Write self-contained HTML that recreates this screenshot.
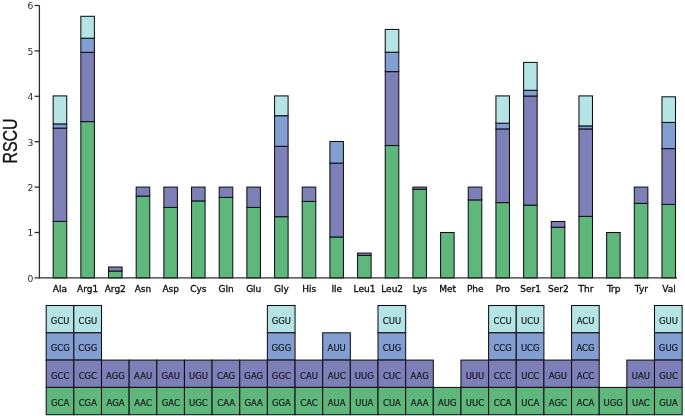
<!DOCTYPE html>
<html><head><meta charset="utf-8"><title>RSCU</title>
<style>html,body{margin:0;padding:0;background:#fff}svg{display:block}</style></head>
<body>
<svg width="685" height="416" viewBox="0 0 685 416">
<defs><filter id="soft" x="0" y="0" width="100%" height="100%" filterUnits="userSpaceOnUse"><feGaussianBlur stdDeviation="0.4"/></filter></defs>
<rect width="685" height="416" fill="#fff"/>
<g filter="url(#soft)">
<rect width="685" height="416" fill="#fff"/>
<g stroke="#101018" stroke-width="1.05">
<rect x="53.18" y="221.40" width="13.55" height="56.50" fill="#60b77b"/>
<rect x="53.18" y="128.10" width="13.55" height="93.30" fill="#7d7fb7"/>
<rect x="53.18" y="123.90" width="13.55" height="4.20" fill="#839ed1"/>
<rect x="53.18" y="95.90" width="13.55" height="28.00" fill="#b5e4e5"/>
<rect x="80.85" y="121.60" width="13.55" height="156.30" fill="#60b77b"/>
<rect x="80.85" y="52.30" width="13.55" height="69.30" fill="#7d7fb7"/>
<rect x="80.85" y="38.20" width="13.55" height="14.10" fill="#839ed1"/>
<rect x="80.85" y="16.30" width="13.55" height="21.90" fill="#b5e4e5"/>
<rect x="108.52" y="271.00" width="13.55" height="6.90" fill="#60b77b"/>
<rect x="108.52" y="267.00" width="13.55" height="4.00" fill="#7d7fb7"/>
<rect x="136.19" y="196.10" width="13.55" height="81.80" fill="#60b77b"/>
<rect x="136.19" y="187.10" width="13.55" height="9.00" fill="#7d7fb7"/>
<rect x="163.86" y="207.40" width="13.55" height="70.50" fill="#60b77b"/>
<rect x="163.86" y="187.10" width="13.55" height="20.30" fill="#7d7fb7"/>
<rect x="191.53" y="200.90" width="13.55" height="77.00" fill="#60b77b"/>
<rect x="191.53" y="187.10" width="13.55" height="13.80" fill="#7d7fb7"/>
<rect x="219.21" y="197.40" width="13.55" height="80.50" fill="#60b77b"/>
<rect x="219.21" y="187.10" width="13.55" height="10.30" fill="#7d7fb7"/>
<rect x="246.88" y="207.40" width="13.55" height="70.50" fill="#60b77b"/>
<rect x="246.88" y="187.10" width="13.55" height="20.30" fill="#7d7fb7"/>
<rect x="274.55" y="216.70" width="13.55" height="61.20" fill="#60b77b"/>
<rect x="274.55" y="146.30" width="13.55" height="70.40" fill="#7d7fb7"/>
<rect x="274.55" y="115.70" width="13.55" height="30.60" fill="#839ed1"/>
<rect x="274.55" y="95.90" width="13.55" height="19.80" fill="#b5e4e5"/>
<rect x="302.22" y="201.40" width="13.55" height="76.50" fill="#60b77b"/>
<rect x="302.22" y="187.10" width="13.55" height="14.30" fill="#7d7fb7"/>
<rect x="329.90" y="237.00" width="13.55" height="40.90" fill="#60b77b"/>
<rect x="329.90" y="163.10" width="13.55" height="73.90" fill="#7d7fb7"/>
<rect x="329.90" y="141.50" width="13.55" height="21.60" fill="#839ed1"/>
<rect x="357.57" y="255.40" width="13.55" height="22.50" fill="#60b77b"/>
<rect x="357.57" y="253.10" width="13.55" height="2.30" fill="#7d7fb7"/>
<rect x="385.24" y="145.50" width="13.55" height="132.40" fill="#60b77b"/>
<rect x="385.24" y="71.60" width="13.55" height="73.90" fill="#7d7fb7"/>
<rect x="385.24" y="52.20" width="13.55" height="19.40" fill="#839ed1"/>
<rect x="385.24" y="29.40" width="13.55" height="22.80" fill="#b5e4e5"/>
<rect x="412.91" y="189.30" width="13.55" height="88.60" fill="#60b77b"/>
<rect x="412.91" y="187.10" width="13.55" height="2.20" fill="#7d7fb7"/>
<rect x="440.58" y="232.50" width="13.55" height="45.40" fill="#60b77b"/>
<rect x="468.25" y="199.90" width="13.55" height="78.00" fill="#60b77b"/>
<rect x="468.25" y="187.10" width="13.55" height="12.80" fill="#7d7fb7"/>
<rect x="495.93" y="202.60" width="13.55" height="75.30" fill="#60b77b"/>
<rect x="495.93" y="128.90" width="13.55" height="73.70" fill="#7d7fb7"/>
<rect x="495.93" y="123.20" width="13.55" height="5.70" fill="#839ed1"/>
<rect x="495.93" y="95.90" width="13.55" height="27.30" fill="#b5e4e5"/>
<rect x="523.60" y="205.10" width="13.55" height="72.80" fill="#60b77b"/>
<rect x="523.60" y="96.00" width="13.55" height="109.10" fill="#7d7fb7"/>
<rect x="523.60" y="90.30" width="13.55" height="5.70" fill="#839ed1"/>
<rect x="523.60" y="62.40" width="13.55" height="27.90" fill="#b5e4e5"/>
<rect x="551.27" y="227.20" width="13.55" height="50.70" fill="#60b77b"/>
<rect x="551.27" y="221.50" width="13.55" height="5.70" fill="#7d7fb7"/>
<rect x="578.94" y="216.40" width="13.55" height="61.50" fill="#60b77b"/>
<rect x="578.94" y="128.90" width="13.55" height="87.50" fill="#7d7fb7"/>
<rect x="578.94" y="125.90" width="13.55" height="3.00" fill="#839ed1"/>
<rect x="578.94" y="95.90" width="13.55" height="30.00" fill="#b5e4e5"/>
<rect x="606.62" y="232.50" width="13.55" height="45.40" fill="#60b77b"/>
<rect x="634.29" y="203.40" width="13.55" height="74.50" fill="#60b77b"/>
<rect x="634.29" y="187.10" width="13.55" height="16.30" fill="#7d7fb7"/>
<rect x="661.96" y="204.40" width="13.55" height="73.50" fill="#60b77b"/>
<rect x="661.96" y="148.60" width="13.55" height="55.80" fill="#7d7fb7"/>
<rect x="661.96" y="122.40" width="13.55" height="26.20" fill="#839ed1"/>
<rect x="661.96" y="96.80" width="13.55" height="25.60" fill="#b5e4e5"/>
</g>
<g stroke="#2e2e2e" stroke-width="1.3" fill="none">
<path d="M39.4 5.50V278.30"/>
<path d="M34.6 277.90H677"/>
<path d="M34.6 232.50H39.4"/>
<path d="M34.6 187.10H39.4"/>
<path d="M34.6 141.70H39.4"/>
<path d="M34.6 96.30H39.4"/>
<path d="M34.6 50.90H39.4"/>
<path d="M34.6 5.50H39.4"/>
</g>
<g font-family="'DejaVu Sans','Liberation Sans',sans-serif" font-size="9.2" fill="#2a2a2a" text-anchor="end">
<text x="33.4" y="281.80">0</text>
<text x="33.4" y="236.40">1</text>
<text x="33.4" y="191.00">2</text>
<text x="33.4" y="145.60">3</text>
<text x="33.4" y="100.20">4</text>
<text x="33.4" y="54.80">5</text>
<text x="33.4" y="9.40">6</text>
</g>
<text transform="translate(17.4 141.0) rotate(-90)" font-family="'Liberation Sans',sans-serif" font-size="19.5" fill="#111" stroke="#111" stroke-width="0.35" text-anchor="middle" textLength="45.2" lengthAdjust="spacingAndGlyphs">RSCU</text>
<g font-family="'DejaVu Sans','Liberation Sans',sans-serif" font-size="9" fill="#0c0c0c" stroke="#0c0c0c" stroke-width="0.3" text-anchor="middle">
<text x="59.90" y="291.7">Ala</text>
<text x="87.59" y="291.7">Arg1</text>
<text x="115.28" y="291.7">Arg2</text>
<text x="142.97" y="291.7">Asn</text>
<text x="170.66" y="291.7">Asp</text>
<text x="198.35" y="291.7">Cys</text>
<text x="226.04" y="291.7">Gln</text>
<text x="253.73" y="291.7">Glu</text>
<text x="281.42" y="291.7">Gly</text>
<text x="309.11" y="291.7">His</text>
<text x="336.80" y="291.7">Ile</text>
<text x="364.49" y="291.7">Leu1</text>
<text x="392.18" y="291.7">Leu2</text>
<text x="419.87" y="291.7">Lys</text>
<text x="447.56" y="291.7">Met</text>
<text x="475.25" y="291.7">Phe</text>
<text x="502.94" y="291.7">Pro</text>
<text x="530.63" y="291.7">Ser1</text>
<text x="558.32" y="291.7">Ser2</text>
<text x="586.01" y="291.7">Thr</text>
<text x="613.70" y="291.7">Trp</text>
<text x="641.39" y="291.7">Tyr</text>
<text x="669.08" y="291.7">Val</text>
</g>
<g stroke="#101018" stroke-width="1.05">
<rect x="46.20" y="305.50" width="27.65" height="27.30" fill="#b5e4e5"/>
<rect x="73.85" y="305.50" width="27.65" height="27.30" fill="#b5e4e5"/>
<rect x="267.40" y="305.50" width="27.65" height="27.30" fill="#b5e4e5"/>
<rect x="378.00" y="305.50" width="27.65" height="27.30" fill="#b5e4e5"/>
<rect x="488.60" y="305.50" width="27.65" height="27.30" fill="#b5e4e5"/>
<rect x="516.25" y="305.50" width="27.65" height="27.30" fill="#b5e4e5"/>
<rect x="571.55" y="305.50" width="27.65" height="27.30" fill="#b5e4e5"/>
<rect x="654.50" y="305.50" width="27.65" height="27.30" fill="#b5e4e5"/>
<rect x="46.20" y="332.80" width="27.65" height="27.30" fill="#839ed1"/>
<rect x="73.85" y="332.80" width="27.65" height="27.30" fill="#839ed1"/>
<rect x="267.40" y="332.80" width="27.65" height="27.30" fill="#839ed1"/>
<rect x="322.70" y="332.80" width="27.65" height="27.30" fill="#839ed1"/>
<rect x="378.00" y="332.80" width="27.65" height="27.30" fill="#839ed1"/>
<rect x="488.60" y="332.80" width="27.65" height="27.30" fill="#839ed1"/>
<rect x="516.25" y="332.80" width="27.65" height="27.30" fill="#839ed1"/>
<rect x="571.55" y="332.80" width="27.65" height="27.30" fill="#839ed1"/>
<rect x="654.50" y="332.80" width="27.65" height="27.30" fill="#839ed1"/>
<rect x="46.20" y="360.10" width="27.65" height="27.30" fill="#7d7fb7"/>
<rect x="73.85" y="360.10" width="27.65" height="27.30" fill="#7d7fb7"/>
<rect x="101.50" y="360.10" width="27.65" height="27.30" fill="#7d7fb7"/>
<rect x="129.15" y="360.10" width="27.65" height="27.30" fill="#7d7fb7"/>
<rect x="156.80" y="360.10" width="27.65" height="27.30" fill="#7d7fb7"/>
<rect x="184.45" y="360.10" width="27.65" height="27.30" fill="#7d7fb7"/>
<rect x="212.10" y="360.10" width="27.65" height="27.30" fill="#7d7fb7"/>
<rect x="239.75" y="360.10" width="27.65" height="27.30" fill="#7d7fb7"/>
<rect x="267.40" y="360.10" width="27.65" height="27.30" fill="#7d7fb7"/>
<rect x="295.05" y="360.10" width="27.65" height="27.30" fill="#7d7fb7"/>
<rect x="322.70" y="360.10" width="27.65" height="27.30" fill="#7d7fb7"/>
<rect x="350.35" y="360.10" width="27.65" height="27.30" fill="#7d7fb7"/>
<rect x="378.00" y="360.10" width="27.65" height="27.30" fill="#7d7fb7"/>
<rect x="405.65" y="360.10" width="27.65" height="27.30" fill="#7d7fb7"/>
<rect x="460.95" y="360.10" width="27.65" height="27.30" fill="#7d7fb7"/>
<rect x="488.60" y="360.10" width="27.65" height="27.30" fill="#7d7fb7"/>
<rect x="516.25" y="360.10" width="27.65" height="27.30" fill="#7d7fb7"/>
<rect x="543.90" y="360.10" width="27.65" height="27.30" fill="#7d7fb7"/>
<rect x="571.55" y="360.10" width="27.65" height="27.30" fill="#7d7fb7"/>
<rect x="626.85" y="360.10" width="27.65" height="27.30" fill="#7d7fb7"/>
<rect x="654.50" y="360.10" width="27.65" height="27.30" fill="#7d7fb7"/>
<rect x="46.20" y="387.40" width="27.65" height="27.30" fill="#60b77b"/>
<rect x="73.85" y="387.40" width="27.65" height="27.30" fill="#60b77b"/>
<rect x="101.50" y="387.40" width="27.65" height="27.30" fill="#60b77b"/>
<rect x="129.15" y="387.40" width="27.65" height="27.30" fill="#60b77b"/>
<rect x="156.80" y="387.40" width="27.65" height="27.30" fill="#60b77b"/>
<rect x="184.45" y="387.40" width="27.65" height="27.30" fill="#60b77b"/>
<rect x="212.10" y="387.40" width="27.65" height="27.30" fill="#60b77b"/>
<rect x="239.75" y="387.40" width="27.65" height="27.30" fill="#60b77b"/>
<rect x="267.40" y="387.40" width="27.65" height="27.30" fill="#60b77b"/>
<rect x="295.05" y="387.40" width="27.65" height="27.30" fill="#60b77b"/>
<rect x="322.70" y="387.40" width="27.65" height="27.30" fill="#60b77b"/>
<rect x="350.35" y="387.40" width="27.65" height="27.30" fill="#60b77b"/>
<rect x="378.00" y="387.40" width="27.65" height="27.30" fill="#60b77b"/>
<rect x="405.65" y="387.40" width="27.65" height="27.30" fill="#60b77b"/>
<rect x="433.30" y="387.40" width="27.65" height="27.30" fill="#60b77b"/>
<rect x="460.95" y="387.40" width="27.65" height="27.30" fill="#60b77b"/>
<rect x="488.60" y="387.40" width="27.65" height="27.30" fill="#60b77b"/>
<rect x="516.25" y="387.40" width="27.65" height="27.30" fill="#60b77b"/>
<rect x="543.90" y="387.40" width="27.65" height="27.30" fill="#60b77b"/>
<rect x="571.55" y="387.40" width="27.65" height="27.30" fill="#60b77b"/>
<rect x="599.20" y="387.40" width="27.65" height="27.30" fill="#60b77b"/>
<rect x="626.85" y="387.40" width="27.65" height="27.30" fill="#60b77b"/>
<rect x="654.50" y="387.40" width="27.65" height="27.30" fill="#60b77b"/>
</g>
<g font-family="'DejaVu Sans','Liberation Sans',sans-serif" font-size="9.4" fill="#14141c" stroke="#14141c" stroke-width="0.2" text-anchor="middle">
<text transform="translate(60.18 323.90) scale(0.9 1)">GCU</text>
<text transform="translate(87.83 323.90) scale(0.9 1)">CGU</text>
<text transform="translate(281.37 323.90) scale(0.9 1)">GGU</text>
<text transform="translate(391.97 323.90) scale(0.9 1)">CUU</text>
<text transform="translate(502.57 323.90) scale(0.9 1)">CCU</text>
<text transform="translate(530.23 323.90) scale(0.9 1)">UCU</text>
<text transform="translate(585.52 323.90) scale(0.9 1)">ACU</text>
<text transform="translate(668.48 323.90) scale(0.9 1)">GUU</text>
<text transform="translate(60.18 351.20) scale(0.9 1)">GCG</text>
<text transform="translate(87.83 351.20) scale(0.9 1)">CGG</text>
<text transform="translate(281.37 351.20) scale(0.9 1)">GGG</text>
<text transform="translate(336.67 351.20) scale(0.9 1)">AUU</text>
<text transform="translate(391.97 351.20) scale(0.9 1)">CUG</text>
<text transform="translate(502.57 351.20) scale(0.9 1)">CCG</text>
<text transform="translate(530.23 351.20) scale(0.9 1)">UCG</text>
<text transform="translate(585.52 351.20) scale(0.9 1)">ACG</text>
<text transform="translate(668.48 351.20) scale(0.9 1)">GUG</text>
<text transform="translate(60.18 378.50) scale(0.9 1)">GCC</text>
<text transform="translate(87.83 378.50) scale(0.9 1)">CGC</text>
<text transform="translate(115.48 378.50) scale(0.9 1)">AGG</text>
<text transform="translate(143.12 378.50) scale(0.9 1)">AAU</text>
<text transform="translate(170.78 378.50) scale(0.9 1)">GAU</text>
<text transform="translate(198.42 378.50) scale(0.9 1)">UGU</text>
<text transform="translate(226.08 378.50) scale(0.9 1)">CAG</text>
<text transform="translate(253.72 378.50) scale(0.9 1)">GAG</text>
<text transform="translate(281.37 378.50) scale(0.9 1)">GGC</text>
<text transform="translate(309.02 378.50) scale(0.9 1)">CAU</text>
<text transform="translate(336.67 378.50) scale(0.9 1)">AUC</text>
<text transform="translate(364.32 378.50) scale(0.9 1)">UUG</text>
<text transform="translate(391.97 378.50) scale(0.9 1)">CUC</text>
<text transform="translate(419.62 378.50) scale(0.9 1)">AAG</text>
<text transform="translate(474.92 378.50) scale(0.9 1)">UUU</text>
<text transform="translate(502.57 378.50) scale(0.9 1)">CCC</text>
<text transform="translate(530.23 378.50) scale(0.9 1)">UCC</text>
<text transform="translate(557.88 378.50) scale(0.9 1)">AGU</text>
<text transform="translate(585.52 378.50) scale(0.9 1)">ACC</text>
<text transform="translate(640.83 378.50) scale(0.9 1)">UAU</text>
<text transform="translate(668.48 378.50) scale(0.9 1)">GUC</text>
<text transform="translate(60.18 405.80) scale(0.9 1)">GCA</text>
<text transform="translate(87.83 405.80) scale(0.9 1)">CGA</text>
<text transform="translate(115.48 405.80) scale(0.9 1)">AGA</text>
<text transform="translate(143.12 405.80) scale(0.9 1)">AAC</text>
<text transform="translate(170.78 405.80) scale(0.9 1)">GAC</text>
<text transform="translate(198.42 405.80) scale(0.9 1)">UGC</text>
<text transform="translate(226.08 405.80) scale(0.9 1)">CAA</text>
<text transform="translate(253.72 405.80) scale(0.9 1)">GAA</text>
<text transform="translate(281.37 405.80) scale(0.9 1)">GGA</text>
<text transform="translate(309.02 405.80) scale(0.9 1)">CAC</text>
<text transform="translate(336.67 405.80) scale(0.9 1)">AUA</text>
<text transform="translate(364.32 405.80) scale(0.9 1)">UUA</text>
<text transform="translate(391.97 405.80) scale(0.9 1)">CUA</text>
<text transform="translate(419.62 405.80) scale(0.9 1)">AAA</text>
<text transform="translate(447.27 405.80) scale(0.9 1)">AUG</text>
<text transform="translate(474.92 405.80) scale(0.9 1)">UUC</text>
<text transform="translate(502.57 405.80) scale(0.9 1)">CCA</text>
<text transform="translate(530.23 405.80) scale(0.9 1)">UCA</text>
<text transform="translate(557.88 405.80) scale(0.9 1)">AGC</text>
<text transform="translate(585.52 405.80) scale(0.9 1)">ACA</text>
<text transform="translate(613.17 405.80) scale(0.9 1)">UGG</text>
<text transform="translate(640.83 405.80) scale(0.9 1)">UAC</text>
<text transform="translate(668.48 405.80) scale(0.9 1)">GUA</text>
</g>
</g>
</svg>
</body></html>
